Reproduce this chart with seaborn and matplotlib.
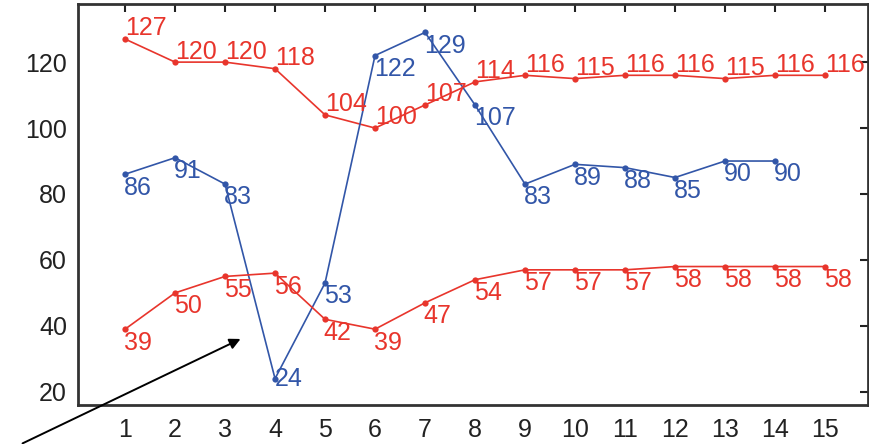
import numpy as np
import pandas as pd
import matplotlib
matplotlib.use("Agg")
import matplotlib.pyplot as plt
import seaborn as sns

# data
steps = list(range(1, 16))
upper_red = [127, 120, 120, 118, 104, 100, 107, 114, 116, 115, 116, 116, 115, 116, 116]
blue_steps = list(range(1, 15))
blue_vals = [86, 91, 83, 24, 53, 122, 129, 107, 83, 89, 88, 85, 90, 90]
lower_red = [39, 50, 55, 56, 42, 39, 47, 54, 57, 57, 57, 58, 58, 58, 58]

RED = "#e8352c"
BLUE = "#3256a8"

sns.set_style("white")
plt.rcParams["font.family"] = ["Liberation Sans", "DejaVu Sans"]

fig = plt.figure(figsize=(8.7, 4.44), dpi=100)
ax = fig.add_axes([0.0897, 0.0878, 0.908, 0.903])

series = [
    (steps, upper_red, RED, "above"),
    (blue_steps, blue_vals, BLUE, "below"),
    (steps, lower_red, RED, "below"),
]

for xs, ys, col, where in series:
    sns.lineplot(x=xs, y=ys, color=col, marker="o", markersize=4.5,
                 markeredgewidth=0, linewidth=1.2, ax=ax)
    for x, y in zip(xs, ys):
        if where == "above":
            ax.annotate(str(y), (x, y), xytext=(0, -1), textcoords="offset points",
                        ha="left", va="bottom", color=col, fontsize=18)
        elif y == 24:
            ax.annotate(str(y), (x, y), xytext=(0, 0), textcoords="offset points",
                        ha="left", va="center", color=col, fontsize=18)
        else:
            ax.annotate(str(y), (x, y), xytext=(-1, -1), textcoords="offset points",
                        ha="left", va="top", color=col, fontsize=18)

# arrow pointing into the plot from the lower left corner
ax.annotate("", xy=(3.36, 36.4), xytext=(-1.1, 4.0),
            arrowprops=dict(arrowstyle="-|>", color="black", lw=1.4,
                            mutation_scale=16),
            annotation_clip=False)

ax.set_xlim(0.06, 15.86)
ax.set_ylim(16, 137.6)
ax.set_xticks(steps)
ax.set_yticks([20, 40, 60, 80, 100, 120])
ax.tick_params(direction="in", length=6, width=1.5, colors="#222222",
               labelsize=18, top=True, right=True, labelcolor="#222222")
ax.tick_params(axis="x", pad=9)
ax.tick_params(axis="y", pad=8)
for sp in ax.spines.values():
    sp.set_visible(True)
    sp.set_color("#333333")
    sp.set_linewidth(2)

fig.savefig("out.png", dpi=100)
